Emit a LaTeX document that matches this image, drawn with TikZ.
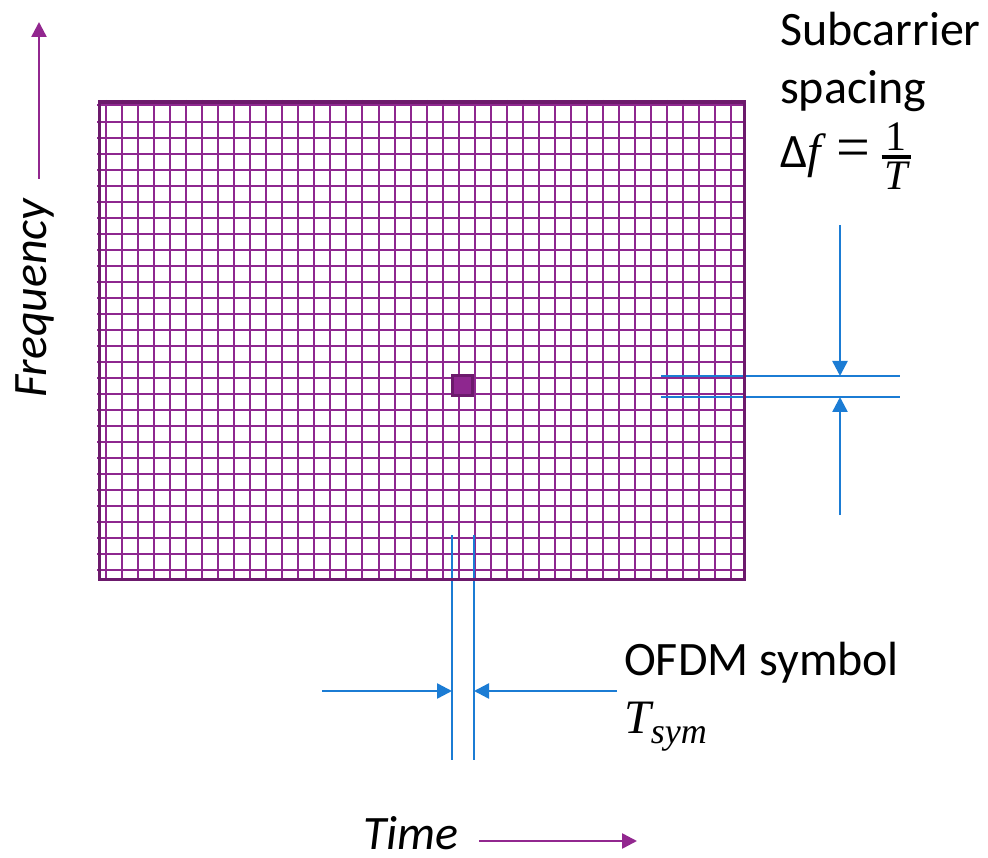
\RequirePackage{fix-cm}
\documentclass[tikz,border=0pt]{standalone}
\usepackage{fontspec}
\setmainfont{Carlito}
\newfontfamily\serifmath{Liberation Serif}
\usetikzlibrary{arrows.meta}
\definecolor{gridpurple}{HTML}{8E278F}
\definecolor{borderpurple}{HTML}{6C1A6C}
\definecolor{axispurple}{HTML}{92278F}
\definecolor{dimblue}{HTML}{1B7CD4}
\tikzset{
  gridline/.style={draw=gridpurple, line width=2pt},
  dimline/.style={draw=dimblue, line width=2.5pt},
  dimarrow/.style={draw=dimblue, line width=2.5pt, -{Triangle[length=15pt,width=15pt]}},
  axisarrow/.style={draw=axispurple, line width=2.5pt, -{Triangle[length=15pt,width=15pt]}},
  lbl/.style={inner sep=0pt, anchor=base west, font=\fontsize{48}{58}\selectfont},
}
\newcommand{\smallserif}{\serifmath\fontsize{42}{42}\selectfont}
\newcommand{\subserif}{\serifmath\fontsize{36}{36}\selectfont}
\begin{document}
\begin{tikzpicture}[x=1pt,y=-1pt]
\useasboundingbox (0,0) rectangle (988,858);
% grid
\foreach \k in {0,...,39} {
  \draw[gridline] ({106+16.03*\k},100) -- ({106+16.03*\k},578);
}
\foreach \k in {0,...,29} {
  \draw[gridline] (97,{105.5+16.02*\k}) -- (743,{105.5+16.02*\k});
}
% dimension lines (right)
\coordinate (h1a) at (661,376); \coordinate (h1b) at (900,376);
\coordinate (h2a) at (661,397); \coordinate (h2b) at (900,397);
\draw[dimline] (h1a) -- (h1b);
\draw[dimline] (h2a) -- (h2b);
\coordinate (dtop) at (840,225); \coordinate (dtip) at (840,376);
\coordinate (ubot) at (840,515); \coordinate (utip) at (840,397);
\draw[dimarrow] (dtop) -- (dtip);
\draw[dimarrow] (ubot) -- (utip);
% dimension lines (bottom)
\coordinate (v1a) at (452,535); \coordinate (v1b) at (452,760);
\coordinate (v2a) at (474,535); \coordinate (v2b) at (474,760);
\draw[dimline] (v1a) -- (v1b);
\draw[dimline] (v2a) -- (v2b);
\coordinate (lstart) at (322,691); \coordinate (ltip) at (452,691);
\coordinate (rstart) at (617,691); \coordinate (rtip) at (474,691);
\draw[dimarrow] (lstart) -- (ltip);
\draw[dimarrow] (rstart) -- (rtip);
% border
\node[draw=borderpurple, line width=3.5pt, minimum width=645pt, minimum height=477pt, inner sep=0pt, anchor=north west] (grid) at (97.5,100.5) {};
% resource element
\node[draw=borderpurple, fill=gridpurple, line width=3pt, minimum size=20pt, inner sep=0pt] (re) at (462,386) {};
% axes
\coordinate (fbot) at (39,179); \coordinate (ftop) at (39,22);
\draw[axisarrow] (fbot) -- (ftop);
\coordinate (tl) at (479,841); \coordinate (tr) at (637,841);
\draw[axisarrow] (tl) -- (tr);
\node[lbl, rotate=90] (freq) at (46,398) {\itshape Frequency};
\node[lbl] (time) at (363,849) {\itshape Time};
% labels
\node[lbl] (sc1) at (780,46) {Subcarrier};
\node[lbl] (sc2) at (780,104) {spacing};
\node[lbl] (sc3) at (780,168) {Δ{\serifmath\itshape f}\hspace{16pt}{\serifmath\fontsize{60}{60}\selectfont =}\hspace{10pt}$\vcenter{\hbox{${\hbox{\kern4pt\smallserif 1\kern4pt}\above 3.5pt\hbox{\smallserif\itshape T}}$}}$};
\node[lbl] (of1) at (624,675) {OFDM symbol};
\node[lbl] (of2) at (624,733) {{\serifmath\itshape T}\raisebox{-10pt}{\subserif\itshape sym}};
\end{tikzpicture}
\end{document}
